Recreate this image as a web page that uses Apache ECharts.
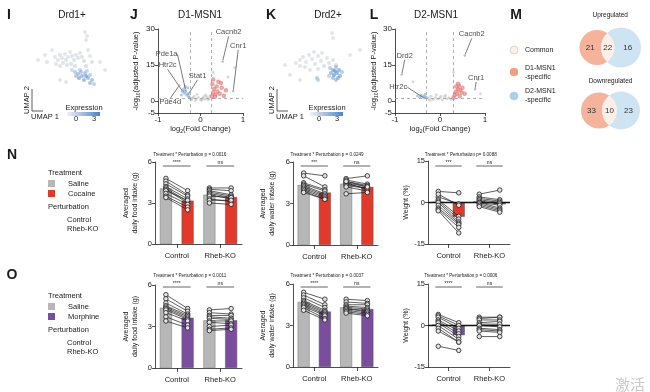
<!DOCTYPE html>
<html><head><meta charset="utf-8">
<script src="https://cdn.jsdelivr.net/npm/echarts@6/dist/echarts.min.js"></script>
<style>html,body{margin:0;padding:0;background:#fff}#c{width:650px;height:392px}</style>
</head><body><div id="c"></div><script>
const FONT = '"Liberation Sans", Arial, Helvetica, sans-serif';
const TXT = '#1a1a1a';

// ---------- UMAP (panels I, K): [umap1, umap2, expression] ----------
const umapD1 = [[55,7,0.2],[57,11,0.3],[56,15,0.1],[8,35,0],[15,30,0.1],[17,37,0.2],[22,25,0.1],
 [25,32,0.3],[28,35,0.2],[30,30,0.4],[32,33,0.3],[35,29,0.2],[36,35,0.5],[38,32,0.3],[40,27,0.2],[42,31,0.6],
 [44,35,0.8],[46,30,0.4],[48,33,0.6],[50,28,0.3],[52,32,0.5],[54,36,0.9],[33,38,0.4],[37,40,0.6],[41,39,0.8],
 [26,39,0.2],[30,41,0.3],[58,25,0.2],[60,31,0.4],[62,37,0.7],[56,41,1.2],[45,41,1.0],
 [42,45,1.6],[45,47,2.0],[48,49,2.4],[50,45,1.8],[52,51,2.6],[55,48,2.2],[58,53,2.5],[60,50,2.0],[62,55,2.3],
 [49,53,2.8],[54,55,2.7],[57,46,1.7],[46,51,2.1],[64,59,1.9],[60,58,2.4],[51,47,2.2],[56,51,2.9],
 [30,55,0.2],[36,57,0.3],[70,37,0.1],[75,45,0.2]];
const umapD2 = [[57,8,0.1],[58,13,0.2],[25,35,0.2],[28,32,0.3],[31,37,0.2],[34,30,0.4],[37,34,0.3],[40,39,0.5],
 [43,31,0.3],[46,36,0.4],[49,41,0.6],[52,33,0.3],[30,42,0.2],[35,45,0.3],[43,44,0.4],[25,41,0.1],[39,27,0.2],
 [47,28,0.3],[21,38,0.1],[54,38,0.5],[58,35,0.4],[61,40,0.8],
 [55,43,2.0],[58,45,2.6],[61,42,2.3],[64,45,2.8],[56,48,2.5],[59,50,3.0],[62,48,2.9],[65,51,2.7],[58,53,2.4],
 [61,55,2.2],[67,47,2.1],[54,51,1.9],[63,53,2.6],[60,46,3.0],[42,53,2.0],[43,55,1.8],
 [10,40,0.1],[15,50,0.2],[75,30,0.1],[85,25,0.1],[25,55,0.2]];

// ---------- Volcano J (D1-MSN1): [log2FC, -log10 padj] ----------
const jNs = [[-0.2,1.0],[-0.15,2.0],[-0.1,0.8],[-0.05,1.5],[0,0.5],[0.05,1.2],[0.1,0.7],[0.15,1.8],[0.2,1.0],
 [-0.22,0.4],[0.12,2.5],[-0.08,2.8],[0.03,0.3],[-0.18,1.4],[0.18,0.5],[-0.12,0.2],[0.08,1.9],[-0.25,1.1],[0.22,2.2],
 [0.8,14],[0.3,12],[0.65,10]];
const jDown = [[-0.28,2.0],[-0.3,3.0],[-0.33,2.5],[-0.35,4.0],[-0.38,3.2],[-0.4,5.0],[-0.42,4.2],[-0.3,5.5],[-0.36,6.0],[-0.27,1.6],[-0.45,2.5]];
const jUp = [[0.27,2.0],[0.3,3.5],[0.32,5.0],[0.28,7.0],[0.35,2.5],[0.38,6.0],[0.4,4.0],[0.42,8.0],[0.45,3.0],[0.5,5.5],[0.3,9.0],[0.55,2.2],[0.48,7.5],[0.6,4.5],[0.34,1.8]];
const jGenes = ['Cacnb2','Cnr1','Pde1a','Htr2c','Pde4d','Stat1'];
const jGeneXY = [[0.52,16.5],[0.77,4.2],[-0.35,4.5],[-0.42,4.0],[-0.5,6.5],[-0.28,3.0]];

// ---------- Volcano L (D2-MSN1) ----------
const lNs = [[-0.25,1.0],[-0.2,2.0],[-0.15,0.6],[-0.1,1.5],[-0.05,0.8],[0,1.2],[0.05,0.4],[0.1,1.8],[0.15,0.9],
 [0.2,1.4],[-0.22,0.3],[0.12,2.4],[-0.08,2.6],[0.25,0.6],[-0.28,1.6],[0.02,2.0],[-0.6,8],[0.85,9],[0.3,12],[0.9,3]];
const lDown = [[-0.32,1.5],[-0.35,2.0],[-0.38,1.8],[-0.42,2.5],[-0.45,1.6],[-0.33,2.8],[-0.5,2.2]];
const lUp = [[0.3,1.5],[0.33,2.5],[0.35,4.0],[0.38,3.0],[0.4,5.0],[0.42,6.5],[0.45,4.5],[0.48,3.5],[0.5,5.5],[0.36,6.0],[0.44,2.0],[0.55,3.0],[0.4,7.2]];
const lGenes = ['Drd2','Htr2c','Cacnb2','Cnr1'];
const lGeneXY = [[-0.85,11],[-0.35,1.2],[0.55,19],[0.78,5]];

// ---------- Venn (M): [D1-specific, common, D2-specific] ----------
const vennUp = [21,22,16];
const vennDown = [33,10,23];

// ---------- Behaviour (N, O) ----------
const barCats = ['Control','Rheb-KO'];
const nFoodSalCtrl = [4.8,4.6,4.4,4.2,4.1,4.0,3.9,3.7,3.5,3.4];
const nFoodCocCtrl = [3.9,3.6,3.5,3.3,3.1,3.0,3.2,2.9,2.7,2.5];
const nFoodSalKO   = [4.1,4.0,3.9,3.8,3.7,3.6,3.5,3.3,3.2,3.0];
const nFoodCocKO   = [4.1,3.9,3.6,3.5,3.4,3.3,3.4,3.1,3.2,2.9];
const nWatSalCtrl = [5.2,5.0,4.5,4.4,4.3,4.2,4.1,4.0,3.9,3.8];
const nWatCocCtrl = [5.0,4.2,4.0,3.9,3.7,3.6,3.5,3.4,3.3,3.3];
const nWatSalKO   = [4.8,4.7,4.6,4.5,4.5,4.4,4.3,4.2,3.7,4.6];
const nWatCocKO   = [5.0,4.4,4.3,4.2,4.0,4.1,4.1,3.9,3.8,4.2];
const nWtSalCtrl = [4,2,3,1,0.5,0,-1,-2,-2.5,-3];
const nWtCocCtrl = [3.5,-0.5,-1,-5,-6,-7,-7.5,-8,-9,-11];
const nWtSalKO   = [3,2,1.5,1,0.5,0,0,-0.5,-1,-1.5];
const nWtCocKO   = [4.5,1,0.5,0,-0.5,-1,-2,-2.5,-3,-3.5];
const oFoodSalCtrl = [5.3,5.0,4.7,4.5,4.4,4.3,4.2,4.0,3.7,3.4];
const oFoodMorCtrl = [4.3,4.1,3.9,3.8,3.7,3.6,3.5,3.4,3.1,2.9];
const oFoodSalKO   = [4.2,4.0,3.8,3.7,3.6,3.4,3.3,3.0,2.8,2.7];
const oFoodMorKO   = [4.3,3.9,3.8,3.6,3.5,3.4,3.2,3.1,2.9,2.8];
const oWatSalCtrl = [5.4,5.2,5.0,4.8,4.7,4.6,4.5,4.4,4.3,4.1];
const oWatMorCtrl = [4.9,4.5,4.3,4.1,4.0,3.9,3.8,3.7,3.5,3.4];
const oWatSalKO   = [4.9,4.7,4.5,4.4,4.3,4.2,4.2,4.1,4.0,3.9];
const oWatMorKO   = [4.8,4.6,4.5,4.3,4.2,4.1,4.0,3.9,3.8,3.7];
const oWtSalCtrl = [4,3.5,3,2,1.5,1,0,-1,-2,-7.5];
const oWtMorCtrl = [1,0,-1,-2,-3,-4,-5,-6,-6,-9];
const oWtSalKO   = [3,2.5,2,1,0.5,0,-1,-1.5,-2,-4];
const oWtMorKO   = [3,3,2,1.5,0.5,-0.5,-1.5,-2,-2.5,-4];

const pTitles = ['Treatment * Perturbation p = 0.0016','Treatment * Perturbation p = 0.0249','Treatment * Perturbation p= 0.0088',
 'Treatment * Perturbation p = 0.0011','Treatment * Perturbation p = 0.0037','Treatment * Perturbation p = 0.0006'];
const sigN = [['****','ns'],['***','ns'],['***','ns']];
const sigO = [['****','ns'],['****','ns'],['****','ns']];

// =====================================================================
const grids=[], xAxes=[], yAxes=[], series=[], graphics=[], visualMaps=[];
const mean = a => a.reduce((s,v)=>s+v,0)/a.length;
function txt(t,x,y,o){o=o||{};graphics.push({type:'text',x:x,y:y,rotation:o.rot||0,silent:true,z:50,
  style:{text:t,fill:o.color||TXT,font:(o.weight||'normal')+' '+(o.size||7)+'px '+(o.family||FONT),align:o.align||'center',verticalAlign:'middle'}});}
function addGrid(g){grids.push({left:g.left,top:g.top,width:g.width,height:g.height}); return grids.length-1;}
const axLine = {lineStyle:{color:'#222',width:0.8}};

function umap(geo, data, ax){
  const gi=addGrid(geo);
  const xi=xAxes.push({gridIndex:gi,type:'value',min:0,max:geo.width,show:false})-1;
  const yi=yAxes.push({gridIndex:gi,type:'value',min:0,max:geo.height,inverse:true,show:false})-1;
  const si=series.push({type:'scatter',xAxisIndex:xi,yAxisIndex:yi,data:data,symbolSize:4,silent:true,animation:false,itemStyle:{opacity:0.6}})-1;
  visualMaps.push({show:false,type:'continuous',min:0,max:3,dimension:2,seriesIndex:si,inRange:{color:['#d6d6d6','#b2c9e2','#4a84cb']}});
  graphics.push({type:'polyline',silent:true,shape:{points:[[ax.x,ax.y-22],[ax.x,ax.y],[ax.x+11,ax.y]]},style:{stroke:'#333',lineWidth:0.8,fill:null}});
  txt('UMAP 2',ax.x-5,ax.y-11,{rot:Math.PI/2,size:7.5});
  txt('UMAP 1',ax.x+13,ax.y+6,{size:7.5});
  txt('Expression',ax.cb+17,ax.y-3,{size:7.5});
  graphics.push({type:'rect',silent:true,shape:{x:ax.cb,y:ax.y+1,width:33,height:4},
    style:{fill:new echarts.graphic.LinearGradient(0,0,1,0,[{offset:0,color:'#f2f2f2'},{offset:1,color:'#4a84cb'}])}});
  txt('0',ax.cb+9,ax.y+8,{size:7.5}); txt('3',ax.cb+27,ax.y+8,{size:7.5});
}

function volcano(geo, ns, down, up, genes, gxy, offs, thr, nameGap){
  const gi=addGrid(geo);
  const sub={fontSize:5,padding:[5,0,0,0]};
  const xi=xAxes.push({gridIndex:gi,type:'value',min:-1,max:1,interval:1,splitLine:{show:false},
    axisLine:Object.assign({onZero:false},axLine),axisTick:{length:3,lineStyle:{color:'#222',width:0.8}},
    axisLabel:{fontSize:8,color:TXT,fontFamily:FONT,margin:3},
    name:'log{s|2}(Fold Change)',nameLocation:'middle',nameGap:10,
    nameTextStyle:{fontSize:7.5,color:TXT,fontFamily:FONT,rich:{s:sub}}})-1;
  const yi=yAxes.push({gridIndex:gi,type:'value',min:-5,max:30,splitLine:{show:false},
    axisLine:Object.assign({onZero:false,show:true},axLine),
    axisTick:{show:true,length:3,customValues:[-5,0,15,30],lineStyle:{color:'#222',width:0.8}},
    axisLabel:{fontSize:8,color:TXT,fontFamily:FONT,margin:3,customValues:[-5,0,15,30]},
    name:'-log{s|10}(adjusted P-value)',nameLocation:'middle',nameGap:nameGap,nameRotate:90,
    nameTextStyle:{fontSize:7.5,color:TXT,fontFamily:FONT,rich:{s:sub}}})-1;
  const base={type:'scatter',xAxisIndex:xi,yAxisIndex:yi,silent:true,animation:false};
  series.push(Object.assign({},base,{data:ns,symbolSize:3,itemStyle:{color:'rgba(170,170,170,0.55)'},
    markLine:{silent:true,symbol:['none','none'],label:{show:false},animation:false,
      lineStyle:{type:[3,3],color:'#9a9a9a',width:0.8},data:[{xAxis:-thr},{xAxis:thr},{yAxis:1.3}]}}));
  series.push(Object.assign({},base,{data:down,symbolSize:3,itemStyle:{color:'rgba(120,172,215,0.75)'}}));
  series.push(Object.assign({},base,{data:up,symbol:'emptyCircle',symbolSize:2.5,itemStyle:{color:'rgba(225,110,110,0.8)',borderWidth:0.6}}));
  series.push(Object.assign({},base,{data:genes.map((g,i)=>({name:g,value:gxy[i]})),symbolSize:2.5,
    itemStyle:{color:'rgba(150,150,150,0.8)'},z:10,
    label:{show:true,formatter:'{b}',position:'inside',fontSize:7.5,color:TXT,fontFamily:FONT},
    labelLayout:p=>({dx:offs[p.dataIndex][0],dy:offs[p.dataIndex][1]}),
    labelLine:{show:true,lineStyle:{color:'#222',width:0.6}}}));
}

function barPanel(geo, sal, trt, tColor, ymin, ymax, interval, yname, nameGap, weight){
  const gi=addGrid(geo);
  const xa=xAxes.push({gridIndex:gi,type:'category',data:['CS','CT','KS','KT'],position:'bottom',
    axisLabel:{show:false},axisTick:{show:false},axisLine:Object.assign({onZero:false},axLine)})-1;
  xAxes.push({gridIndex:gi,type:'category',data:barCats,position:'bottom',axisLine:{show:false,onZero:false},
    axisTick:{show:true,alignWithLabel:true,length:4,lineStyle:{color:'#222',width:0.8}},
    axisLabel:{fontSize:7.5,color:TXT,fontFamily:FONT,margin:8}});
  const ya=yAxes.push({gridIndex:gi,type:'value',min:ymin,max:ymax,interval:interval,splitLine:{show:false},
    axisLine:Object.assign({show:true},axLine),axisTick:{show:true,length:3,lineStyle:{color:'#222',width:0.8}},
    axisLabel:{fontSize:7.5,color:TXT,fontFamily:FONT,margin:3},
    name:yname,nameLocation:'middle',nameGap:nameGap,nameRotate:90,
    nameTextStyle:{fontSize:7,lineHeight:8.5,color:TXT,fontFamily:FONT}})-1;
  const gray='#b7b7b7';
  const vals=[mean(sal[0]),mean(trt[0]),mean(sal[1]),mean(trt[1])];
  const cols=[gray,tColor,gray,tColor];
  const bar={type:'bar',xAxisIndex:xa,yAxisIndex:ya,barWidth:12,silent:true,animation:false,z:2,
    data:vals.map((v,i)=>({value:v,itemStyle:{color:cols[i],borderColor:i%2?'#555':'#777',borderWidth:0.5}}))};
  if(weight){bar.markLine={silent:true,symbol:['none','none'],label:{show:false},animation:false,
    lineStyle:{type:'solid',color:'#111',width:1.3},data:[{yAxis:0}]};}
  series.push(bar);
  for(let g=0;g<2;g++){
    for(let i=0;i<sal[g].length;i++){
      series.push({type:'line',xAxisIndex:xa,yAxisIndex:ya,silent:true,animation:false,z:5,
        data:[[2*g,sal[g][i]],[2*g+1,trt[g][i]]],symbol:'circle',symbolSize:4.5,
        itemStyle:{color:'#e4e4e4',borderColor:'#1a1a1a',borderWidth:0.8},lineStyle:{color:'#1a1a1a',width:0.7}});
    }
  }
}
function annot(geo, title, titleY, sig, sigY){
  txt(title,geo.left+geo.width*0.4,titleY,{size:4.6});
  for(let k=0;k<2;k++){
    const x1=geo.left+geo.width*(2*k+0.5)/4-3, x2=geo.left+geo.width*(2*k+1.5)/4+3;
    graphics.push({type:'line',silent:true,shape:{x1:x1,y1:sigY,x2:x2,y2:sigY},style:{stroke:'#222',lineWidth:0.7}});
    txt(sig[k],(x1+x2)/2,sigY-3.5,{size:5});
  }
}

// ---------- layout ----------
const G = {
  I:{left:30,top:25,width:90,height:65}, J:{left:158,top:29,width:85,height:84},
  K:{left:275,top:25,width:90,height:65}, L:{left:395,top:29,width:90,height:84},
  N1:{left:155,top:162,width:87,height:82}, N2:{left:293,top:162,width:85,height:83}, N3:{left:428,top:161,width:82,height:83},
  O1:{left:155,top:285,width:87,height:83}, O2:{left:293,top:284,width:85,height:83}, O3:{left:428,top:284,width:82,height:83}
};
umap(G.I, umapD1, {x:32, y:111, cb:67});
umap(G.K, umapD2, {x:277, y:111, cb:310});
volcano(G.J, jNs, jDown, jUp, jGenes, jGeneXY, [[6,-29],[5,-45],[-19,-36],[-15,-26],[-9,17],[9,-18]], 0.25, 17);
volcano(G.L, lNs, lDown, lUp, lGenes, lGeneXY, [[3,-19],[-26,-11],[7,-21],[1,-11]], 0.3, 13);

const red='#e2392b', purple='#7b4d9e';
const foodName='Averaged\ndaily food intake (g)', watName='Averaged\ndaily water intake (g)';
barPanel(G.N1,[nFoodSalCtrl,nFoodSalKO],[nFoodCocCtrl,nFoodCocKO],red,0,6,3,foodName,16,false);
barPanel(G.N2,[nWatSalCtrl,nWatSalKO],[nWatCocCtrl,nWatCocKO],red,0,6,3,watName,17,false);
barPanel(G.N3,[nWtSalCtrl,nWtSalKO],[nWtCocCtrl,nWtCocKO],red,-15,15,15,'Weight (%)',18,true);
barPanel(G.O1,[oFoodSalCtrl,oFoodSalKO],[oFoodMorCtrl,oFoodMorKO],purple,0,6,3,foodName,16,false);
barPanel(G.O2,[oWatSalCtrl,oWatSalKO],[oWatMorCtrl,oWatMorKO],purple,0,6,3,watName,17,false);
barPanel(G.O3,[oWtSalCtrl,oWtSalKO],[oWtMorCtrl,oWtMorKO],purple,-15,15,15,'Weight (%)',18,true);
annot(G.N1,pTitles[0],155,sigN[0],166); annot(G.N2,pTitles[1],155,sigN[1],166); annot(G.N3,pTitles[2],155,sigN[2],166);
annot(G.O1,pTitles[3],276,sigO[0],287); annot(G.O2,pTitles[4],276,sigO[1],287); annot(G.O3,pTitles[5],276,sigO[2],287);

// ---------- panel letters & titles ----------
[['I',9,15],['J',134,15],['K',271,15],['L',374,15],['M',516,15],['N',12,155],['O',12,275]]
  .forEach(a=>txt(a[0],a[1],a[2],{size:14,weight:'bold',family:'"Liberation Sans", Arial, sans-serif'}));
txt('Drd1+',72,15,{size:10}); txt('D1-MSN1',200,15,{size:10}); txt('Drd2+',328,15,{size:10}); txt('D2-MSN1',436,15,{size:10});

// ---------- Venn (M) ----------
const pink='#f5b39c', blue='#cfe4f3', lens='#fbefe8';
function arcPts(cx,cy,r,a0,a1,n){const p=[];for(let k=0;k<=n;k++){const a=a0+(a1-a0)*k/n;p.push([cx+r*Math.cos(a),cy+r*Math.sin(a)]);}return p;}
function venn(cy, c1, r1, c2, r2, counts, title, ty){
  txt(title,(c1-r1+c2+r2)/2,ty,{size:6.5});
  graphics.push({type:'circle',silent:true,shape:{cx:c1,cy:cy,r:r1},style:{fill:pink}});
  graphics.push({type:'circle',silent:true,shape:{cx:c2,cy:cy,r:r2},style:{fill:blue}});
  const d=c2-c1, a=(d*d+r1*r1-r2*r2)/(2*d), h=Math.sqrt(r1*r1-a*a);
  const t1=Math.atan2(h,a);
  const t2=Math.atan2(h,a-d);
  const pts=arcPts(c1,cy,r1,-t1,t1,24).concat(arcPts(c2,cy,r2,t2,2*Math.PI-t2,24));
  graphics.push({type:'polygon',silent:true,shape:{points:pts},style:{fill:lens}});
  const lensL=c2-r2, lensR=c1+r1;
  txt(String(counts[0]),(c1-r1+lensL)/2,cy,{size:8,color:'#333'});
  txt(String(counts[1]),(lensL+lensR)/2,cy,{size:8,color:'#333'});
  txt(String(counts[2]),(lensR+c2+r2)/2,cy,{size:8,color:'#333'});
}
venn(47.5,597,17.5,621,20,vennUp,'Upregulated',15);
venn(110.5,599,18,621,19,vennDown,'Downregulated',81);
[[50,lens,'#d9b8aa'],[72,'#ee9f80',null],[96,'#a9d0ea',null]].forEach(c=>graphics.push({type:'circle',silent:true,
  shape:{cx:514,cy:c[0],r:4},style:{fill:c[1],stroke:c[2]||c[1],lineWidth:0.6}}));
txt('Common',525,50,{align:'left'}); txt('D1-MSN1',525,68,{align:'left'}); txt('-specific',525,77,{align:'left'});
txt('D2-MSN1',525,91,{align:'left'}); txt('-specific',525,100,{align:'left'});

// ---------- legends N / O ----------
function legendBlock(y0, tName, tColor){
  txt('Treatment',48,y0,{align:'left',size:7.5});
  graphics.push({type:'rect',silent:true,shape:{x:48,y:y0+7,width:7,height:7},style:{fill:'#b7b7b7'}});
  txt('Saline',68,y0+10.5,{align:'left',size:7.5});
  graphics.push({type:'rect',silent:true,shape:{x:48,y:y0+17,width:7,height:7},style:{fill:tColor}});
  txt(tName,68,y0+20.5,{align:'left',size:7.5});
  txt('Perturbation',48,y0+34,{align:'left',size:7.5});
  txt('Control',67,y0+47,{align:'left',size:7.5});
  txt('Rheb-KO',67,y0+56,{align:'left',size:7.5});
}
legendBlock(173,'Cocaine',red);
legendBlock(296,'Morphine',purple);
txt('激活',630,384,{size:15,color:'#c9c9c9',family:'"Noto Sans CJK SC", sans-serif'});

const chart = echarts.init(document.getElementById('c'), null, {renderer:'canvas'});
chart.setOption({animation:false,backgroundColor:'#fff',textStyle:{fontFamily:FONT},
  grid:grids,xAxis:xAxes,yAxis:yAxes,visualMap:visualMaps,series:series,graphic:graphics});
</script></body></html>
